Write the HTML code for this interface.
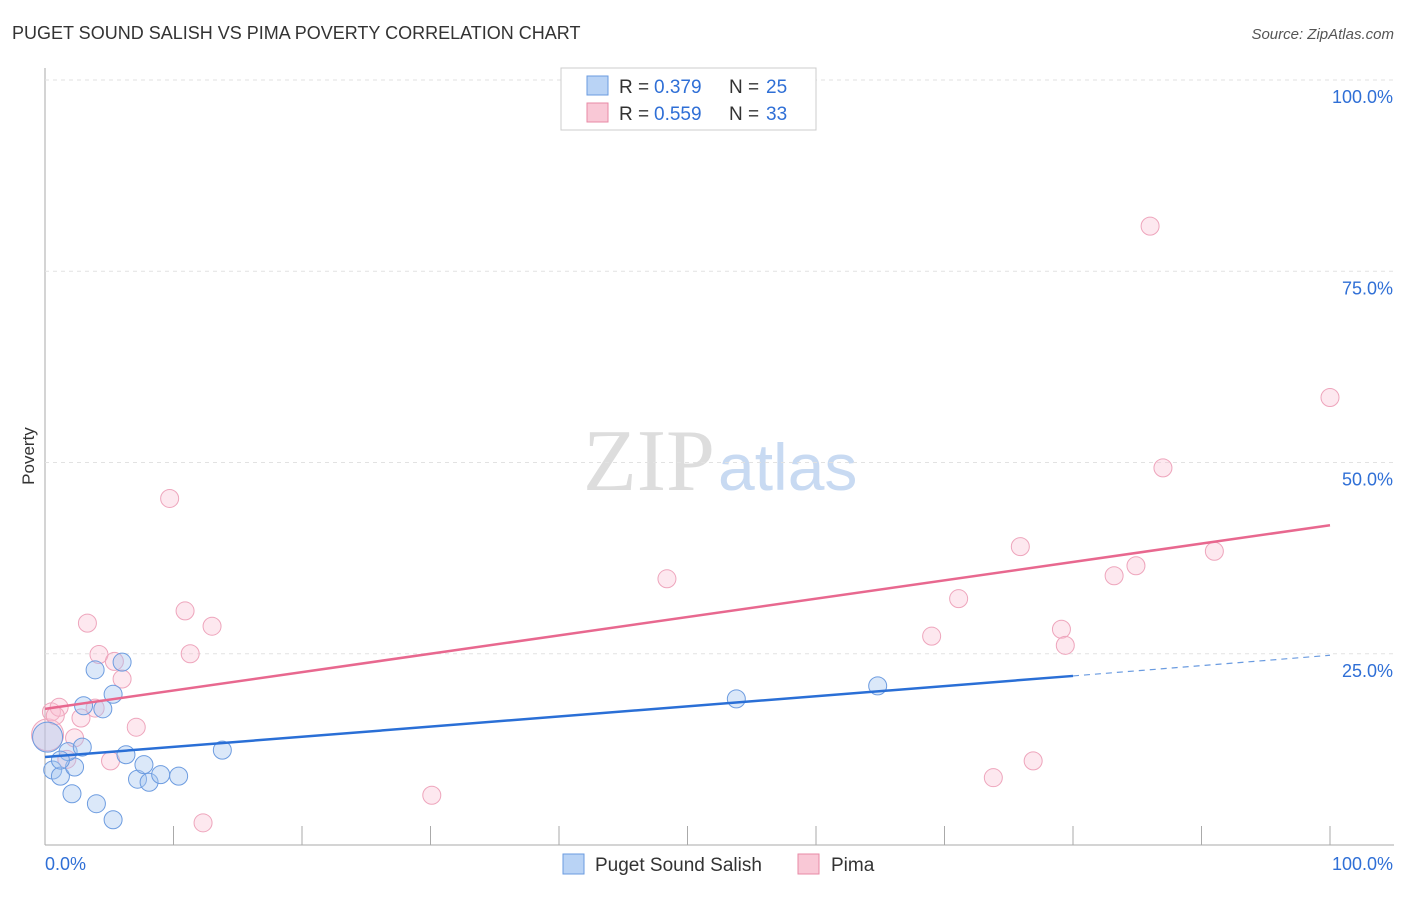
<!DOCTYPE html>
<html><head><meta charset="utf-8"><style>
body{margin:0;background:#fff;font-family:"Liberation Sans",sans-serif}
</style></head><body>
<svg id="c" width="1406" height="892" xmlns="http://www.w3.org/2000/svg" style="font-family:'Liberation Sans',sans-serif">
<text x="12" y="39" font-size="18" fill="#333">PUGET SOUND SALISH VS PIMA POVERTY CORRELATION CHART</text>
<text x="1394" y="39" font-size="15" fill="#555" text-anchor="end" font-style="italic">Source: ZipAtlas.com</text>
<text x="34" y="456" font-size="17" fill="#333" transform="rotate(-90 34 456)" text-anchor="middle">Poverty</text>
<text x="715" y="490" font-size="88" fill="#ddd" text-anchor="end" font-family="Liberation Serif">ZIP</text>
<text x="718" y="490" font-size="66" fill="#c8daf2">atlas</text>
<g id="grid"></g><g id="marks"></g>
<g>
<rect x="561" y="68" width="255" height="62" fill="#fff" stroke="#ccc"/>
<rect x="587" y="76" width="21" height="19" fill="#b9d3f5" stroke="#6a9be0"/>
<rect x="587" y="103" width="21" height="19" fill="#f9c8d6" stroke="#e88aa6"/>
<text y="93" font-size="19" fill="#333"><tspan x="619">R =</tspan><tspan x="654" fill="#2f6fd6">0.379</tspan><tspan x="729">N =</tspan><tspan x="766" fill="#2f6fd6">25</tspan></text>
<text y="120" font-size="19" fill="#333"><tspan x="619">R =</tspan><tspan x="654" fill="#2f6fd6">0.559</tspan><tspan x="729">N =</tspan><tspan x="766" fill="#2f6fd6">33</tspan></text>
</g>
<g>
<rect x="563" y="854" width="21" height="20" fill="#b9d3f5" stroke="#6a9be0"/>
<text x="595" y="871" font-size="19" fill="#333">Puget Sound Salish</text>
<rect x="798" y="854" width="21" height="20" fill="#f9c8d6" stroke="#e88aa6"/>
<text x="831" y="871" font-size="19" fill="#333">Pima</text>
</g>
</svg>
<script>
const yTicks=[25,50,75,100];
const yTickLabels=["25.0%","50.0%","75.0%","100.0%"];
const xTicks=[0,10,20,30,40,50,60,70,80,90,100];
const salishX=[0.2,0.6,1.2,2.1,4.0,5.3,2.3,1.8,2.9,3.0,3.9,4.5,5.3,6.0,6.3,7.2,7.7,8.1,9.0,10.4,13.8,53.8,64.8,1.2];
const salishY=[14.1,9.8,9.0,6.7,5.4,3.3,10.2,12.2,12.8,18.2,22.9,17.8,19.7,23.9,11.8,8.6,10.5,8.2,9.2,9.0,12.4,19.1,20.8,11.1];
const pimaX=[0.2,0.5,1.1,0.8,2.3,2.8,3.3,4.2,3.9,5.4,6.0,5.1,7.1,1.7,9.7,10.9,11.3,13.0,12.3,30.1,48.4,69.0,71.1,73.8,75.9,76.9,79.1,79.4,83.2,84.9,86.0,87.0,91.0,100.0];
const pimaY=[14.4,17.4,18.0,16.9,14.0,16.6,29.0,24.9,17.9,24.0,21.7,11.0,15.4,11.2,45.3,30.6,25.0,28.6,2.9,6.5,34.8,27.3,32.2,8.8,39.0,11.0,28.2,26.1,35.2,36.5,80.9,49.3,38.4,58.5];
const salishTrend=[11.5,22.1,24.8]; // at x=0,80,100
const pimaTrend=[17.8,41.8]; // at x=0,100
const X=v=>45+v*12.85, Y=v=>845-v*7.65;
const NS="http://www.w3.org/2000/svg";
function mk(t,a,p){const e=document.createElementNS(NS,t);for(const k in a)e.setAttribute(k,a[k]);p.appendChild(e);return e;}
const g=document.getElementById('grid'), m=document.getElementById('marks');
mk('line',{x1:45,y1:68,x2:45,y2:845,stroke:'#aaa'},g);
mk('line',{x1:45,y1:845,x2:1394,y2:845,stroke:'#aaa'},g);
yTicks.forEach((t,i)=>{
 const l=mk('line',{x1:45,y1:Y(t),x2:1394,y2:Y(t),stroke:'#e2e2e2','stroke-dasharray':'4,4'},g);
 
 
 const tx=mk('text',{x:1393,y:Y(t)+23,'font-size':18,fill:'#2f6fd6','text-anchor':'end'},g);
 tx.textContent=yTickLabels[i];
 
 
});
xTicks.forEach(t=>{
 const l=mk('line',{x1:X(t),y1:826,x2:X(t),y2:845,stroke:'#aaa'},g);
 
 
});
const x0=mk('text',{x:45,y:870,'font-size':18,fill:'#2f6fd6'},g);x0.textContent='0.0%';


const x1=mk('text',{x:1393,y:870,'font-size':18,fill:'#2f6fd6','text-anchor':'end'},g);x1.textContent='100.0%';


pimaX.forEach((v,i)=>{
 const c=mk('circle',{cx:X(v),cy:Y(pimaY[i]),r:i==0?16:9,fill:'rgba(248,190,208,0.35)',stroke:'#eea5bc','stroke-width':1},m);
 
 
});
salishX.forEach((v,i)=>{
 const c=mk('circle',{cx:X(v),cy:Y(salishY[i]),r:i==0?15:9,fill:'rgba(165,198,240,0.4)',stroke:'#6d9ce0','stroke-width':1},m);
 
 
});
const pl=mk('line',{x1:X(0),y1:Y(pimaTrend[0]),x2:X(100),y2:Y(pimaTrend[1]),stroke:'#e8688f','stroke-width':2.5},m);


const bl=mk('line',{x1:X(0),y1:Y(salishTrend[0]),x2:X(80),y2:Y(salishTrend[1]),stroke:'#2a6fd6','stroke-width':2.5},m);


const bd=mk('line',{x1:X(80),y1:Y(salishTrend[1]),x2:X(100),y2:Y(salishTrend[2]),stroke:'#6a9be0','stroke-width':1.2,'stroke-dasharray':'6,5'},m);


</script>
</body></html>
